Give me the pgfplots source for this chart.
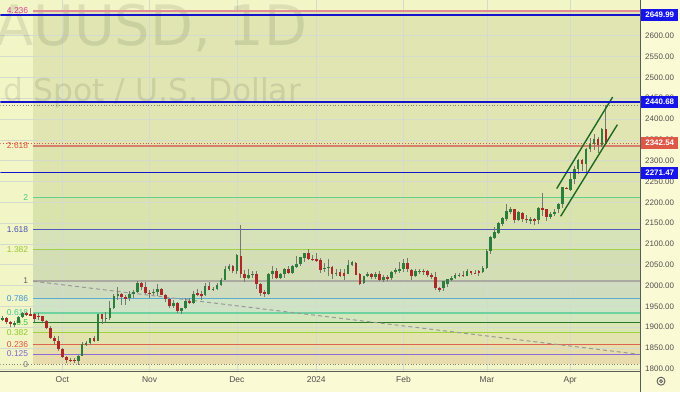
\documentclass[border=0pt]{standalone}
\usepackage{pgfplots}
\pgfplotsset{compat=1.18}
\usepackage{pgfplotstable}
\usepackage{fontspec}
\setmainfont{Liberation Sans}
\newfontfamily\wmfont{DejaVu Sans}

\definecolor{outerbg}{RGB}{250,250,212}
\definecolor{plotbg}{RGB}{242,246,198}
\definecolor{gridc}{RGB}{212,219,204}
\definecolor{axisc}{RGB}{90,90,90}
\definecolor{lblc}{RGB}{80,80,80}
\definecolor{cgreen}{RGB}{45,125,60}
\definecolor{cred}{RGB}{175,40,40}
\definecolor{wickc}{RGB}{120,120,115}
\definecolor{blueline}{RGB}{20,20,205}
\definecolor{boxblue}{RGB}{20,20,235}
\definecolor{boxred}{RGB}{222,88,72}
\definecolor{chang}{RGB}{30,105,35}
% fib bands
\definecolor{bA}{RGB}{224,229,177}
\definecolor{bB}{RGB}{221,228,173}
\definecolor{bC}{RGB}{217,227,172}
\definecolor{bD}{RGB}{214,226,184}
\definecolor{bE}{RGB}{211,222,181}
\definecolor{bF}{RGB}{208,220,190}
\definecolor{bG}{RGB}{207,227,197}
\definecolor{bH}{RGB}{212,230,187}
\definecolor{bI}{RGB}{218,231,180}
\definecolor{bJ}{RGB}{226,227,175}
\definecolor{bK}{RGB}{232,222,172}
\definecolor{bL}{RGB}{233,220,172}
% fib lines
\definecolor{f4236}{RGB}{228,140,150}
\definecolor{f2618}{RGB}{216,128,110}
\definecolor{f2}{RGB}{100,208,140}
\definecolor{f1618}{RGB}{80,88,190}
\definecolor{f1382}{RGB}{160,208,80}
\definecolor{f1}{RGB}{170,170,160}
\definecolor{f0786}{RGB}{90,170,210}
\definecolor{f0618}{RGB}{110,210,160}
\definecolor{f05}{RGB}{40,120,40}
\definecolor{f0382}{RGB}{160,210,60}
\definecolor{f0236}{RGB}{220,100,80}
\definecolor{f0125}{RGB}{140,110,210}
\definecolor{f0}{RGB}{130,130,130}
% fib label colors
\definecolor{l4236}{RGB}{220,60,150}
\definecolor{l2618}{RGB}{220,80,60}
\definecolor{l2}{RGB}{70,200,130}
\definecolor{l1618}{RGB}{70,80,180}
\definecolor{l1382}{RGB}{150,200,50}
\definecolor{l1}{RGB}{100,100,100}
\definecolor{l0786}{RGB}{60,150,210}
\definecolor{l0618}{RGB}{60,200,150}
\definecolor{l05}{RGB}{60,200,60}
\definecolor{l0382}{RGB}{140,200,40}
\definecolor{l0236}{RGB}{220,80,60}
\definecolor{l0125}{RGB}{130,100,210}
\definecolor{l0}{RGB}{120,120,120}

\pgfplotstableread{
i o h l c
-15 1918 1926 1915 1922
-14 1922 1925 1908 1913
-13 1913 1916 1901 1908
-12 1908 1915 1901 1910
-11 1910 1928 1910 1924
-10 1924 1937 1922 1934
-9 1934 1937 1926 1931
-8 1931 1947 1926 1930
-7 1933 1935 1913 1921
-6 1928 1935 1918 1924
-5 1926 1927 1912 1915
-4 1915 1917 1895 1898
-3 1899 1903 1873 1875
-2 1875 1879 1858 1868
-1 1866 1880 1844 1847
0 1847 1850 1827 1828
1 1828 1832 1815 1822
2 1822 1826 1816 1821
3 1821 1826 1813 1820
4 1820 1834 1810 1831
5 1831 1865 1830 1860
6 1860 1867 1855 1861
7 1861 1875 1858 1874
8 1874 1880 1865 1868
9 1868 1933 1867 1932
10 1932 1933 1908 1920
11 1920 1937 1912 1923
12 1923 1962 1917 1947
13 1947 1980 1943 1974
14 1974 1997 1965 1981
15 1981 1983 1953 1972
16 1972 1978 1954 1970
17 1970 1986 1962 1979
18 1979 1990 1970 1985
19 1985 2010 1983 2006
20 2006 2009 1990 1996
21 1996 2008 1981 1983
22 1983 1990 1970 1982
23 1982 1993 1978 1985
24 1985 2004 1976 1992
25 1992 1994 1977 1978
26 1978 1980 1960 1969
27 1969 1971 1946 1950
28 1950 1965 1946 1958
29 1958 1960 1935 1940
30 1940 1947 1931 1946
31 1946 1971 1945 1963
32 1963 1971 1955 1959
33 1959 1986 1956 1981
34 1981 1993 1975 1980
35 1980 1987 1965 1977
36 1977 2007 1975 1998
37 1998 2008 1990 1990
38 1990 1997 1987 1992
39 1992 2007 1990 2002
40 2002 2018 2000 2014
41 2014 2048 2013 2041
42 2041 2052 2036 2046
43 2046 2049 2031 2036
44 2036 2075 2029 2074
45 2072 2146 2018 2029
46 2029 2037 2009 2019
47 2019 2040 2016 2026
48 2026 2035 2018 2028
49 2028 2036 1993 2004
50 2004 2006 1976 1982
51 1984 1990 1973 1980
52 1980 2030 1977 2027
53 2027 2047 2017 2036
54 2036 2042 2016 2019
55 2019 2030 2016 2027
56 2027 2043 2018 2040
57 2040 2047 2028 2031
58 2031 2049 2029 2046
59 2044 2071 2042 2053
60 2051 2069 2047 2068
61 2066 2078 2057 2079
62 2079 2088 2062 2065
63 2065 2073 2058 2062
64 2063 2079 2057 2059
65 2061 2066 2030 2038
66 2040 2054 2033 2043
67 2043 2064 2024 2045
68 2045 2046 2017 2029
69 2029 2041 2022 2031
70 2032 2040 2021 2024
71 2030 2040 2013 2023
72 2028 2062 2028 2049
73 2049 2058 2047 2056
74 2055 2057 2025 2026
75 2028 2031 2002 2005
76 2006 2024 2004 2023
77 2023 2033 2021 2029
78 2029 2031 2017 2021
79 2021 2032 2016 2029
80 2029 2036 2011 2014
81 2014 2025 2009 2020
82 2020 2025 2011 2018
83 2018 2036 2013 2032
84 2032 2043 2027 2037
85 2037 2056 2031 2039
86 2039 2065 2033 2055
87 2055 2066 2032 2039
88 2037 2040 2014 2022
89 2022 2039 2021 2035
90 2035 2040 2027 2035
91 2035 2041 2026 2034
92 2034 2037 2021 2026
93 2026 2030 2016 2020
94 2020 2032 1990 1994
95 1993 1996 1984 1992
96 1994 2006 1988 2012
97 2005 2016 1996 2015
98 2013 2022 2012 2018
99 2018 2031 2016 2025
100 2024 2030 2020 2026
101 2026 2035 2020 2024
102 2024 2041 2022 2036
103 2035 2036 2025 2031
104 2031 2037 2028 2029
105 2034 2037 2024 2030
106 2032 2047 2030 2043
107 2043 2088 2039 2083
108 2083 2120 2077 2116
109 2115 2141 2113 2129
110 2127 2153 2125 2150
111 2148 2165 2143 2162
112 2159 2195 2155 2179
113 2177 2189 2173 2183
114 2183 2185 2150 2157
115 2157 2180 2154 2177
116 2175 2176 2152 2161
117 2161 2170 2150 2157
118 2155 2165 2149 2160
119 2160 2163 2146 2157
120 2157 2188 2148 2187
121 2187 2223 2168 2181
122 2183 2185 2155 2165
123 2165 2176 2160 2171
124 2171 2185 2168 2178
125 2183 2199 2175 2197
126 2196 2236 2186 2236
127 2234 2236 2232 2233
128 2229 2273 2228 2257
129 2257 2288 2245 2281
130 2281 2305 2268 2301
131 2301 2305 2275 2291
132 2291 2330 2273 2329
133 2329 2354 2320 2341
134 2341 2365 2326 2353
135 2353 2356 2319 2337
136 2337 2378 2332 2377
137 2377 2433 2337 2341
}\candles

\begin{document}
\begin{tikzpicture}
\fill[outerbg] (0,0) rectangle (680bp,392bp);
\begin{axis}[
  at={(0,21bp)}, anchor=south west,
  scale only axis, width=640bp, height=371bp,
  xmin=-15.6, xmax=145.6, ymin=1794.5, ymax=2685,
  axis background/.style={fill=plotbg},
  axis x line=bottom, axis y line=right,
  axis line style={draw=axisc, line width=0.8bp, -},
  major tick length=0pt,
  xtick={0,22,44,64,86,107,128},
  xticklabels={Oct,Nov,Dec,2024,Feb,Mar,Apr},
  ytick={1800,1850,...,2600},
  /pgf/number format/assume math mode=true,
  yticklabel={\pgfmathprintnumber[fixed,fixed zerofill,precision=2,1000 sep={}]{\tick}},
  yticklabel style={font=\fontsize{8}{9}\selectfont, text=lblc, anchor=west, inner sep=0pt, xshift=5bp},
  xticklabel style={font=\fontsize{8.5}{10}\selectfont, text=lblc, anchor=north, inner sep=0pt, yshift=-5bp},
]
% fib bands
\addplot[fill=bA, draw=none, forget plot] coordinates {(-7.3,2335.3) (145.6,2335.3) (145.6,2659.5) (-7.3,2659.5)};
\addplot[fill=bB, draw=none, forget plot] coordinates {(-7.3,2211.4) (145.6,2211.4) (145.6,2335.3) (-7.3,2335.3)};
\addplot[fill=bC, draw=none, forget plot] coordinates {(-7.3,2134.9) (145.6,2134.9) (145.6,2211.4) (-7.3,2211.4)};
\addplot[fill=bD, draw=none, forget plot] coordinates {(-7.3,2087.5) (145.6,2087.5) (145.6,2134.9) (-7.3,2134.9)};
\addplot[fill=bE, draw=none, forget plot] coordinates {(-7.3,2011.0) (145.6,2011.0) (145.6,2087.5) (-7.3,2087.5)};
\addplot[fill=bF, draw=none, forget plot] coordinates {(-7.3,1968.1) (145.6,1968.1) (145.6,2011.0) (-7.3,2011.0)};
\addplot[fill=bG, draw=none, forget plot] coordinates {(-7.3,1934.4) (145.6,1934.4) (145.6,1968.1) (-7.3,1968.1)};
\addplot[fill=bH, draw=none, forget plot] coordinates {(-7.3,1910.8) (145.6,1910.8) (145.6,1934.4) (-7.3,1934.4)};
\addplot[fill=bI, draw=none, forget plot] coordinates {(-7.3,1887.2) (145.6,1887.2) (145.6,1910.8) (-7.3,1910.8)};
\addplot[fill=bJ, draw=none, forget plot] coordinates {(-7.3,1857.9) (145.6,1857.9) (145.6,1887.2) (-7.3,1887.2)};
\addplot[fill=bK, draw=none, forget plot] coordinates {(-7.3,1835.7) (145.6,1835.7) (145.6,1857.9) (-7.3,1857.9)};
\addplot[fill=bL, draw=none, forget plot] coordinates {(-7.3,1810.6) (145.6,1810.6) (145.6,1835.7) (-7.3,1835.7)};

% grid (drawn over the bands)
\pgfplotsinvokeforeach{1800,1850,...,2650}{
  \addplot[gridc, line width=0.7bp, forget plot] coordinates {(-15.6,#1) (145.6,#1)};
}
\pgfplotsinvokeforeach{0,22,44,64,86,107,128}{
  \addplot[gridc, line width=0.7bp, forget plot] coordinates {(#1,1794.5) (#1,2685)};
}

% watermark
\node[anchor=base east, inner sep=0pt, text=black, text opacity=0.09, font=\wmfont\fontsize{56}{60}\selectfont] at (rel axis cs:0.4797,0.8787) {XAUUSD, 1D};
\node[anchor=base east, inner sep=0pt, text=black, text opacity=0.09, font=\wmfont\fontsize{31.5}{34}\selectfont] at (rel axis cs:0.4703,0.7278) {Gold Spot / U.S. Dollar};

% fib lines
\addplot[f4236, line width=1.8bp, forget plot] coordinates {(-7.3,2659.5) (145.6,2659.5)};
\addplot[f2618, line width=1.8bp, forget plot] coordinates {(-7.3,2335.3) (145.6,2335.3)};
\addplot[f2, line width=1bp, forget plot] coordinates {(-7.3,2211.4) (145.6,2211.4)};
\addplot[f1618, line width=1bp, forget plot] coordinates {(-7.3,2134.9) (145.6,2134.9)};
\addplot[f1382, line width=1bp, forget plot] coordinates {(-7.3,2087.5) (145.6,2087.5)};
\addplot[f1, line width=1.8bp, forget plot] coordinates {(-7.3,2011.0) (145.6,2011.0)};
\addplot[f0786, line width=1.2bp, forget plot] coordinates {(-7.3,1968.1) (145.6,1968.1)};
\addplot[f0618, line width=1.8bp, forget plot] coordinates {(-7.3,1934.4) (145.6,1934.4)};
\addplot[f05, line width=1bp, forget plot] coordinates {(-7.3,1910.8) (145.6,1910.8)};
\addplot[f0382, line width=1bp, forget plot] coordinates {(-7.3,1887.2) (145.6,1887.2)};
\addplot[f0236, line width=1bp, forget plot] coordinates {(-7.3,1857.9) (145.6,1857.9)};
\addplot[f0125, line width=1bp, forget plot] coordinates {(-7.3,1835.7) (145.6,1835.7)};

% fib labels
\begin{scope}[every node/.style={anchor=east, inner sep=0pt, xshift=-5bp, font=\fontsize{8.5}{10}\selectfont}]
\node[text=l4236] at (axis cs:-7.3,2659.5) {4.236};
\node[text=l2618] at (axis cs:-7.3,2335.3) {2.618};
\node[text=l2] at (axis cs:-7.3,2211.4) {2};
\node[text=l1618] at (axis cs:-7.3,2134.9) {1.618};
\node[text=l1382] at (axis cs:-7.3,2087.5) {1.382};
\node[text=l1] at (axis cs:-7.3,2011.0) {1};
\node[text=l0786] at (axis cs:-7.3,1968.1) {0.786};
\node[text=l0618] at (axis cs:-7.3,1934.4) {0.618};
\node[text=l05] at (axis cs:-7.3,1910.8) {0.5};
\node[text=l0382] at (axis cs:-7.3,1887.2) {0.382};
\node[text=l0236] at (axis cs:-7.3,1857.9) {0.236};
\node[text=l0125] at (axis cs:-7.3,1835.7) {0.125};
\node[text=l0] at (axis cs:-7.3,1810.6) {0};
\end{scope}

% trend (dashed) line
\addplot[gray!80, line width=1bp, dash pattern=on 4bp off 3bp, forget plot] coordinates {(-7.3,2010.5) (145.1,1835.3)};

% dotted high / low / price lines
\addplot[f0, line width=0.8bp, dotted, forget plot] coordinates {(-15.6,1810.6) (145.6,1810.6)};
\addplot[gray, line width=0.8bp, dotted, forget plot] coordinates {(-15.6,2433) (145.6,2433)};
\addplot[boxred, line width=0.8bp, dotted, forget plot] coordinates {(-15.6,2342.54) (145.6,2342.54)};

% candles: wicks
\addplot[draw=none, mark=none, forget plot,
  error bars/.cd, y dir=both, y explicit, error mark=none,
  error bar style={draw=wickc, line width=0.9bp}]
  table[x=i, y expr={(\thisrow{h}+\thisrow{l})/2}, y error expr={(\thisrow{h}-\thisrow{l})/2}] {\candles};
% bodies up
\addplot[draw=none, mark=none, forget plot,
  restrict expr to domain={\thisrow{c}-\thisrow{o}}{0:5000},
  error bars/.cd, y dir=both, y explicit, error mark=none,
  error bar style={draw=cgreen, line width=2.7bp}]
  table[x=i, y expr={(\thisrow{o}+\thisrow{c})/2}, y error expr={max(abs(\thisrow{c}-\thisrow{o})/2,0.9)}] {\candles};
% bodies down
\addplot[draw=none, mark=none, forget plot,
  restrict expr to domain={\thisrow{c}-\thisrow{o}}{-5000:-0.001},
  error bars/.cd, y dir=both, y explicit, error mark=none,
  error bar style={draw=cred, line width=2.7bp}]
  table[x=i, y expr={(\thisrow{o}+\thisrow{c})/2}, y error expr={max(abs(\thisrow{c}-\thisrow{o})/2,0.9)}] {\candles};

% channel
\addplot[chang, line width=1.4bp, forget plot] coordinates {(124.6,2233) (138.7,2452.9)};
\addplot[chang, line width=1.4bp, forget plot] coordinates {(125.6,2166.5) (139.9,2386.6)};

% blue horizontal levels
\addplot[blueline, line width=1.7bp, forget plot] coordinates {(-15.6,2649.99) (145.6,2649.99)};
\addplot[blueline, line width=1.7bp, forget plot] coordinates {(-15.6,2440.68) (145.6,2440.68)};
\addplot[blueline, line width=1.7bp, forget plot] coordinates {(-15.6,2271.47) (145.6,2271.47)};

\coordinate (q1) at (axis cs:145.6,2649.99);
\coordinate (q2) at (axis cs:145.6,2440.68);
\coordinate (q3) at (axis cs:145.6,2342.54);
\coordinate (q4) at (axis cs:145.6,2271.47);
\end{axis}
\draw[axisc, line width=0.8bp] (640bp,0) -- (640bp,21bp);
\begin{scope}[every node/.style={anchor=west, inner sep=0pt, minimum width=37bp, minimum height=12bp, text=white, font=\bfseries\fontsize{8}{9}\selectfont}]
\node[fill=boxblue] at ([xshift=1bp]q1) {2649.99};
\node[fill=boxblue] at ([xshift=1bp]q2) {2440.68};
\node[fill=boxred] at ([xshift=1bp]q3) {2342.54};
\node[fill=boxblue] at ([xshift=1bp]q4) {2271.47};
\end{scope}
% settings icon
\draw[axisc, line width=0.9bp] (661bp,11bp) circle (4bp);
\draw[axisc, line width=0.8bp] (661bp,11bp) circle (1.5bp);
\end{tikzpicture}
\end{document}
